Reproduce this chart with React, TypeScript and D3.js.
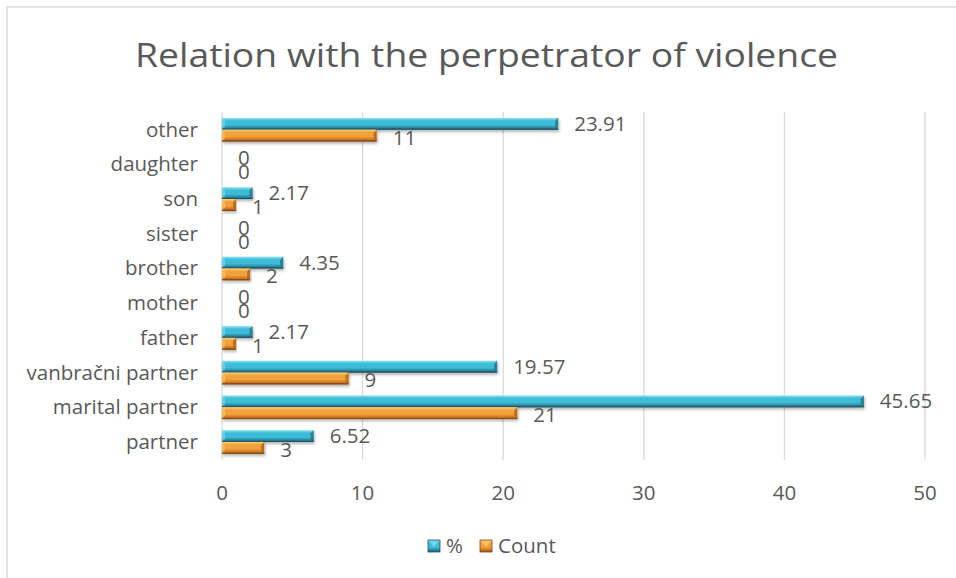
import React from "react";
import * as d3 from "d3";

const categories = [
  "partner",
  "marital partner",
  "vanbračni partner",
  "father",
  "mother",
  "brother",
  "sister",
  "son",
  "daughter",
  "other",
];
const percentValues = [6.52, 45.65, 19.57, 2.17, 0, 4.35, 0, 2.17, 0, 23.91];
const countValues = [3, 21, 9, 1, 0, 2, 0, 1, 0, 11];
const xTicks = [0, 10, 20, 30, 40, 50];
const seriesNames = ["%", "Count"];

const W = 956;
const H = 578;
const FONT = "'Open Sans', 'DejaVu Sans', sans-serif";
const TEXT = "#595959";
const FS = 20.5;

const x = d3.scaleLinear().domain([0, 50]).range([222, 925]);
const y = d3
  .scaleBand<string>()
  .domain([...categories].reverse())
  .range([112.3, 459.3]);

const band = y.bandwidth();
const barH = band * 0.34;

type Palette = { top: string; mid: string; low: string; edge: string; cap: string };
const cyan: Palette = { top: "#8ee3f2", mid: "#3cbcd8", low: "#2a8197", edge: "#1f5565", cap: "#2b7a8c" };
const orange: Palette = { top: "#ffd27a", mid: "#f2a03a", low: "#c6731f", edge: "#874812", cap: "#b5671b" };

function Gradient({ id, p }: { id: string; p: Palette }) {
  return (
    <linearGradient id={id} x1="0" y1="0" x2="0" y2="1">
      <stop offset="0" stopColor={p.top} />
      <stop offset="0.25" stopColor={p.mid} />
      <stop offset="0.6" stopColor={p.mid} />
      <stop offset="0.85" stopColor={p.low} />
      <stop offset="1" stopColor={p.edge} />
    </linearGradient>
  );
}

function BevelBar({ x0, x1, yTop, h, p, gid }: { x0: number; x1: number; yTop: number; h: number; p: Palette; gid: string }) {
  const w = x1 - x0;
  if (w <= 0) return null;
  const b = Math.min(3, w / 3, h / 3);
  return (
    <g filter="url(#shadow)">
      <rect x={x0} y={yTop} width={w} height={h} fill={`url(#${gid})`} />
      {/* right-end bevel */}
      <polygon
        points={`${x1 - b},${yTop + b} ${x1},${yTop} ${x1},${yTop + h} ${x1 - b},${yTop + h - b}`}
        fill={p.cap}
        opacity={0.9}
      />
      {/* left-end bevel */}
      <polygon
        points={`${x0},${yTop} ${x0 + b},${yTop + b} ${x0 + b},${yTop + h - b} ${x0},${yTop + h}`}
        fill={p.top}
        opacity={0.5}
      />
      <line x1={x0} x2={x1} y1={yTop + h - 0.5} y2={yTop + h - 0.5} stroke={p.edge} strokeWidth={1} />
    </g>
  );
}

function fmt(v: number) {
  return String(v);
}

export default function App() {
  return (
    <svg
      width={W}
      height={H}
      viewBox={`0 0 ${W} ${H}`}
      style={{ position: "absolute", left: 0, top: 0, background: "#fff" }}
    >
      <defs>
        <Gradient id="gCyan" p={cyan} />
        <Gradient id="gOrange" p={orange} />
        <filter id="shadow" x="-5%" y="-50%" width="110%" height="220%">
          <feGaussianBlur in="SourceAlpha" stdDeviation="1.5" />
          <feOffset dx="1" dy="2" result="off" />
          <feComponentTransfer>
            <feFuncA type="linear" slope="0.3" />
          </feComponentTransfer>
          <feMerge>
            <feMergeNode />
            <feMergeNode in="SourceGraphic" />
          </feMerge>
        </filter>
      </defs>

      <rect x={7} y={7} width={1000} height={1000} fill="#fff" stroke="#d9d9d9" strokeWidth={1.5} />

      <text
        x={486.5}
        y={67}
        textAnchor="middle"
        fontFamily={FONT}
        fontSize={33}
        fill={TEXT}
        textLength={703}
        lengthAdjust="spacingAndGlyphs"
      >
        Relation with the perpetrator of violence
      </text>

      {/* vertical gridlines */}
      {xTicks.map((t) => (
        <line key={t} x1={x(t)} x2={x(t)} y1={112} y2={460} stroke="#d9d9d9" strokeWidth={1.3} />
      ))}

      {/* x tick labels */}
      {xTicks.map((t) => (
        <text key={t} x={x(t)} y={500} textAnchor="middle" fontFamily={FONT} fontSize={FS} fill={TEXT}>
          {t}
        </text>
      ))}

      {/* category labels */}
      {categories.map((c) => (
        <text
          key={c}
          x={198}
          y={(y(c) as number) + band / 2 + 7}
          textAnchor="end"
          fontFamily={FONT}
          fontSize={FS}
          fill={TEXT}
        >
          {c}
        </text>
      ))}

      {/* bars */}
      {categories.map((c, i) => {
        const cy = (y(c) as number) + band / 2;
        return (
          <g key={c}>
            <BevelBar x0={x(0)} x1={x(percentValues[i])} yTop={cy - barH} h={barH} p={cyan} gid="gCyan" />
            <BevelBar x0={x(0)} x1={x(countValues[i])} yTop={cy} h={barH} p={orange} gid="gOrange" />
          </g>
        );
      })}

      {/* data labels */}
      {categories.map((c, i) => {
        const cy = (y(c) as number) + band / 2;
        return (
          <g key={c} fontFamily={FONT} fontSize={FS} fill={TEXT}>
            <text x={x(percentValues[i]) + 16} y={cy - barH / 2 + 7}>
              {fmt(percentValues[i])}
            </text>
            <text x={x(countValues[i]) + 16} y={cy + barH / 2 + 9}>
              {fmt(countValues[i])}
            </text>
          </g>
        );
      })}

      {/* legend */}
      <g>
        <rect x={428} y={540} width={12} height={12} fill="url(#gCyan)" stroke={cyan.edge} strokeWidth={0.8} />
        <polygon points="430,542 438,542 434,547" fill={cyan.top} opacity={0.7} />
        <text x={446} y={553} fontFamily={FONT} fontSize={FS} fill={TEXT}>
          {seriesNames[0]}
        </text>
        <rect x={480} y={540} width={12} height={12} fill="url(#gOrange)" stroke={orange.edge} strokeWidth={0.8} />
        <polygon points="482,542 490,542 486,547" fill={orange.top} opacity={0.7} />
        <text x={498} y={553} fontFamily={FONT} fontSize={FS} fill={TEXT}>
          {seriesNames[1]}
        </text>
      </g>
    </svg>
  );
}
